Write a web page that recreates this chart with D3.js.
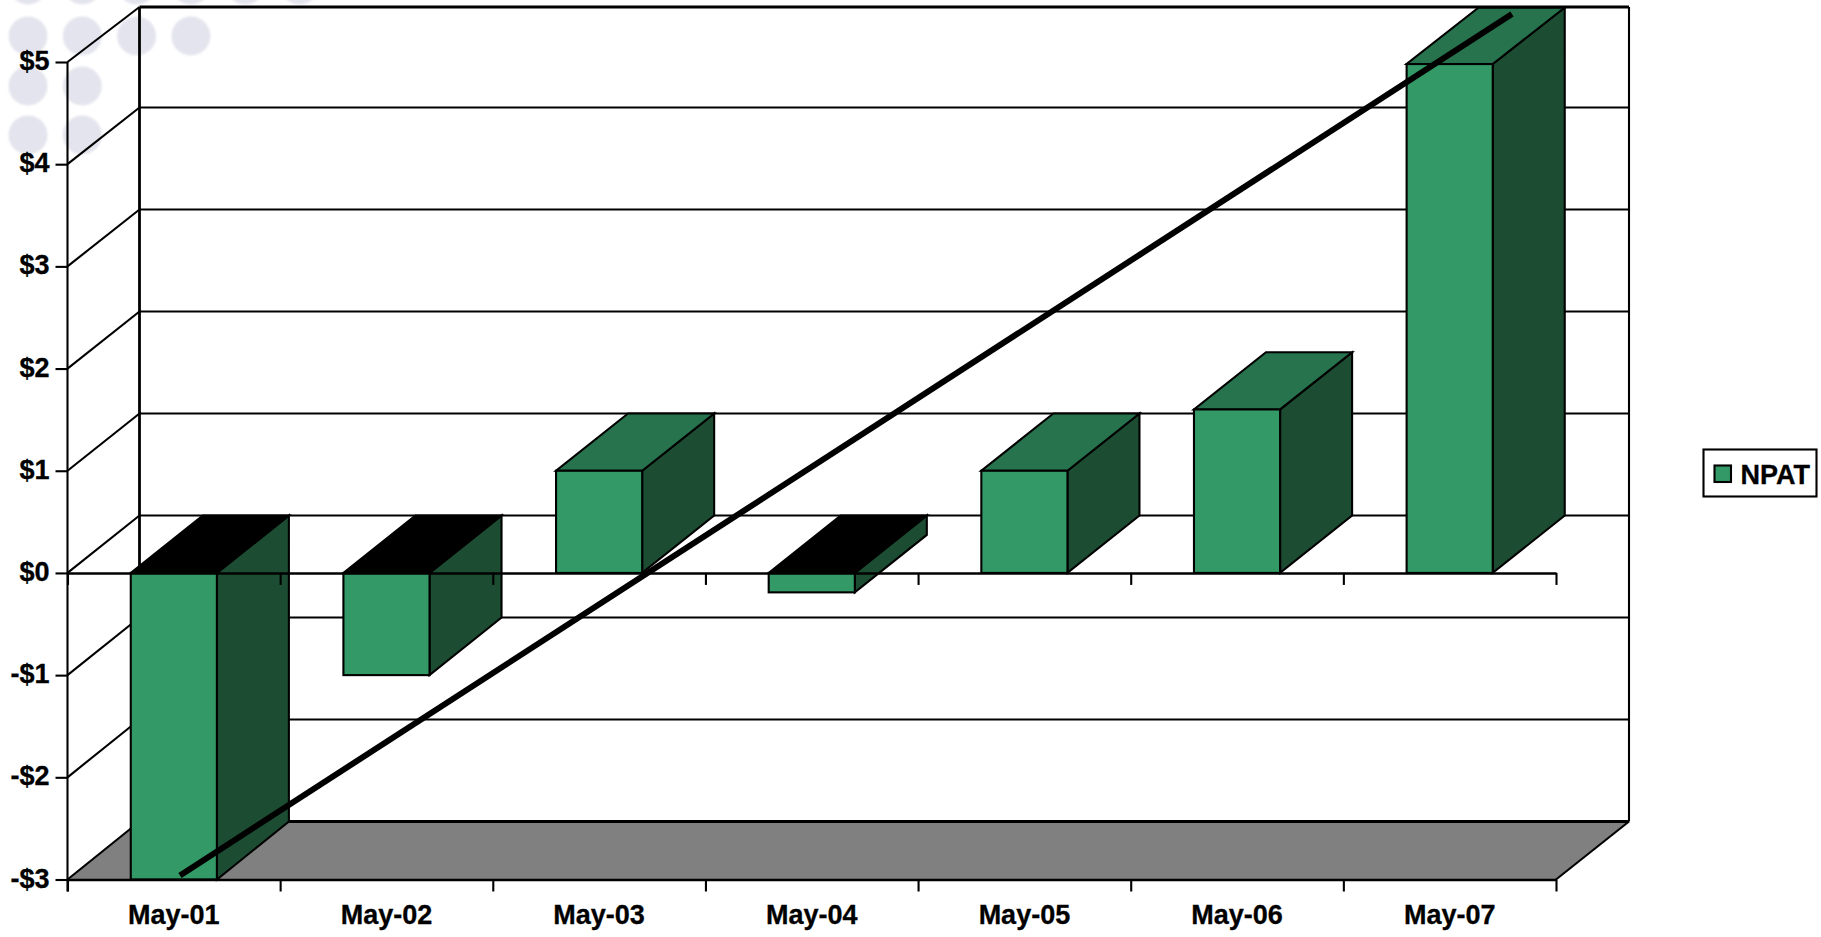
<!DOCTYPE html>
<html>
<head>
<meta charset="utf-8">
<script src="https://cdn.jsdelivr.net/npm/d3@7/dist/d3.min.js"></script>
<style>
html,body{margin:0;padding:0;background:#fff;}
svg{display:block;}
text{font-family:"Liberation Sans",Arial,sans-serif;font-weight:700;font-size:27px;fill:#000;stroke:#000;stroke-width:0.3px;}
</style>
</head>
<body>
<svg id="chart" width="1821" height="937"></svg>
<script>
// ---- data ----
const categories = ["May-01","May-02","May-03","May-04","May-05","May-06","May-07"];
const npat = [-3, -1, 1, -0.19, 1, 1.6, 4.98];
const yTicks = [-3,-2,-1,0,1,2,3,4,5];
const seriesName = "NPAT";
const trendPos = [0.529, 6.793];
const trendVal = [-2.96, 5.47];

// ---- layout ----
const W = 1821, H = 937;
const x0 = 67.5, x1 = 1556, yBottom = 879.5, yTop = 62;
const DX = 72;
const GREEN = "#339966", TOP = "#26734d", SIDE = "#1c4d33", FLOOR = "#808080", DOT = "#e4e4ee";
const LW = 2.1;

const y = d3.scaleLinear().domain([-3,5]).range([yBottom,yTop]);
const yBack = d3.scaleLinear().domain([-3,5]).range([821.5,5.5]);
const xBand = d3.scaleBand().domain(categories).range([x0,x1]).paddingInner(0.595).paddingOuter(0.2975);
const xPos = d3.scaleLinear().domain([0,categories.length]).range([x0,x1]);
const yFmt = v => (v<0 ? "-$"+Math.abs(v) : "$"+v);

const svg = d3.select("#chart");
const poly = pts => pts.map(p=>p.join(",")).join(" ");

// soft edge for the background dots
svg.append("defs").append("filter").attr("id","soft")
  .append("feGaussianBlur").attr("stdDeviation",0.9);

// background dots
const dotRows = [[-15,6],[36,4],[86,2],[135,2]];
const dots = svg.append("g").attr("filter","url(#soft)");
dotRows.forEach(([cy,n])=>{
  d3.range(n).forEach(i=>{
    dots.append("circle").attr("cx",28+i*54.3).attr("cy",cy).attr("r",19.5).attr("fill",DOT);
  });
});

// floor
svg.append("polygon")
  .attr("points",poly([[x0,yBottom],[x1,yBottom],[x1+DX+1,yBack(-3)],[x0+DX,yBack(-3)]]))
  .attr("fill",FLOOR);

// back wall gridlines and side-wall diagonals
const grid = svg.append("g").attr("stroke","#000").attr("fill","none");
yTicks.filter(v=>v<5).forEach(v=>{
  grid.append("line").attr("x1",x0+DX).attr("x2",x1+DX+1).attr("y1",yBack(v)).attr("y2",yBack(v))
      .attr("stroke-width", v===-3 ? 3.2 : LW);
});
yTicks.forEach(v=>{
  grid.append("line").attr("x1",x0).attr("x2",x0+DX).attr("y1",y(v)).attr("y2",v===5?7:yBack(v)).attr("stroke-width",LW);
});
grid.append("line").attr("x1",x0+DX).attr("x2",x0+DX).attr("y1",7).attr("y2",yBack(-3)).attr("stroke-width",2.8);
grid.append("line").attr("x1",x1+DX+1).attr("x2",x1+DX+1).attr("y1",7).attr("y2",yBack(-3)).attr("stroke-width",LW);
grid.append("line").attr("x1",x1).attr("x2",x1+DX+1).attr("y1",yBottom).attr("y2",yBack(-3)).attr("stroke-width",LW);

// y axis
const yAxis = svg.append("g").attr("transform",`translate(${x0},0)`)
  .call(d3.axisLeft(y).tickValues(yTicks).tickFormat(yFmt).tickSize(12).tickPadding(6));
yAxis.select(".domain").attr("stroke","#000").attr("stroke-width",LW).attr("d",`M0,${yTop}V${yBottom+12}`);
yAxis.selectAll(".tick line").attr("stroke","#000").attr("stroke-width",LW);
yAxis.selectAll("text").attr("dy","0.28em");
yAxis.attr("font-family",null).attr("font-size",null);

// bars
const bars = svg.append("g").attr("stroke","#000").attr("stroke-width",LW).attr("stroke-linejoin","miter");
categories.forEach((c,i)=>{
  const v = npat[i], l = xBand(c), r = l + xBand.bandwidth();
  const y0 = y(0), yv = y(v), by0 = yBack(0), byv = yBack(v);
  const t = Math.min(yv,y0), b = Math.max(yv,y0), bt = Math.min(byv,by0), bb = Math.max(byv,by0);
  // side
  bars.append("polygon").attr("points",poly([[r,t],[r+DX,bt],[r+DX,bb],[r,b]])).attr("fill",SIDE);
  // top
  bars.append("polygon").attr("points",poly([[l,t],[r,t],[r+DX,bt],[l+DX,bt]])).attr("fill",v<0?"#000":TOP);
  // front
  bars.append("rect").attr("x",l).attr("y",t).attr("width",r-l).attr("height",b-t).attr("fill",GREEN);
});

// top edge of the back wall
svg.append("line").attr("x1",x0+DX).attr("x2",x1+DX+1).attr("y1",7).attr("y2",7).attr("stroke","#000").attr("stroke-width",2.8);

// category axes: at zero (ticks only) and at the bottom (ticks + labels)
[0,-3].forEach(v=>{
  const a = svg.append("g").attr("transform",`translate(0,${y(v)})`)
    .call(d3.axisBottom(xPos).tickValues(d3.range(categories.length+1)).tickFormat("").tickSize(12).tickSizeOuter(0));
  a.select(".domain").attr("stroke","#000").attr("stroke-width",2.4);
  a.selectAll(".tick line").attr("stroke","#000").attr("stroke-width",LW);
});
const lab = svg.append("g").attr("transform",`translate(0,${yBottom})`)
  .call(d3.axisBottom(xBand).tickSize(0).tickPadding(25));
lab.select(".domain").remove();
lab.attr("font-family",null).attr("font-size",null);

// trend line
const trend = d3.line().x(d=>xPos(d[0])).y(d=>y(d[1]));
svg.append("path").datum(d3.zip(trendPos,trendVal)).attr("d",trend)
  .attr("fill","none").attr("stroke","#000").attr("stroke-width",6);

// legend
svg.append("rect").attr("x",1703.5).attr("y",449.5).attr("width",113).attr("height",47)
  .attr("fill","#fff").attr("stroke","#000").attr("stroke-width",LW);
svg.append("rect").attr("x",1714.5).attr("y",465.5).attr("width",16.5).attr("height",16.5)
  .attr("fill",GREEN).attr("stroke","#000").attr("stroke-width",LW);
svg.append("text").attr("x",1740.5).attr("y",484).text(seriesName);
</script>
</body>
</html>
